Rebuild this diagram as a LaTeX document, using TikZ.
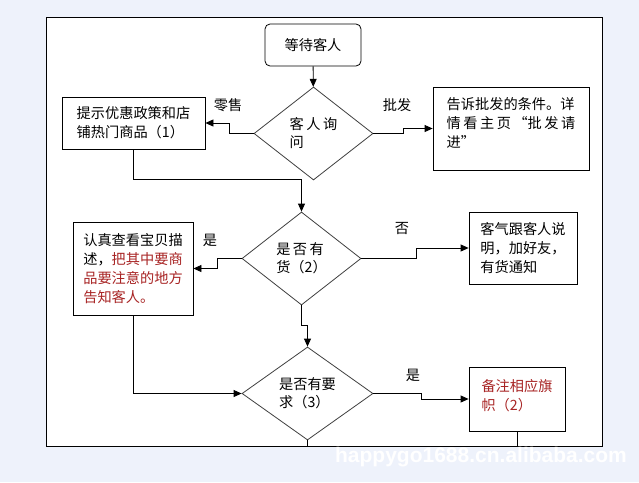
\documentclass[tikz,border=0pt]{standalone}
\usepackage{fontspec}
\setmainfont{Noto Sans CJK SC}
\newfontfamily\wmfont{Liberation Sans}
\usepackage{xcolor}
\usepackage{tikz}
\usetikzlibrary{arrows.meta, positioning, shapes.geometric}
\definecolor{pagebg}{HTML}{EEF2FB}
\definecolor{noteRed}{HTML}{A82424}
\newcommand{\gap}{\hspace{2.5pt}}

\begin{document}
\begin{tikzpicture}[x=1pt, y=-1pt,
  procbox/.style={draw, line width=0.8pt, inner sep=0pt, align=left,
              font=\fontsize{14.2}{19}\selectfont},
  startbox/.style={procbox, rounded corners=5pt, align=center},
  decision/.style={draw=black!75, line width=0.8pt, diamond, inner sep=0pt,
              align=left, font=\fontsize{14.2}{18}\selectfont},
  tag/.style={font=\fontsize{14.2}{18}\selectfont, inner sep=0pt},
  conn/.style={line width=0.8pt, -{Triangle[length=8pt, width=7pt]}},
  >=Stealth]
\useasboundingbox (0,0) rectangle (639,482);
\fill[pagebg] (0,0) rectangle (639,482);
\draw[fill=white, line width=0.8pt] (46.5,17) rectangle (602,446);
\node[font=\wmfont\bfseries\fontsize{21}{21}\selectfont, text=white] (wm) at (481,457) {happygo1688.cn.alibaba.com};

\node[startbox, minimum width=96pt, minimum height=42pt] (wait) at (313,45) {等待客人};
\node[decision, minimum width=119pt, minimum height=93pt] (ask) at (313.5,133.5) {客\gap{}人\gap{}询\\问};
\node[procbox, minimum width=143pt, minimum height=52pt] (promo) at (133.5,123)
  {提示优惠政策和店\\铺热门商品（1）};
\node[procbox, minimum width=156pt, minimum height=83pt] (whole) at (511,128.5)
  {告诉批发的条件。详\\情\gap{}看\gap{}主\gap{}页\gap{}“批\gap{}发\gap{}请\\进”\\[-8pt]};
\node[decision, minimum width=119pt, minimum height=93pt] (stock) at (301.5,258.5) {是\gap{}否\gap{}有\\货（2）};
\node[procbox, minimum width=120pt, minimum height=93pt] (check) at (133,268.5)
  {认真查看宝贝描\\述，\textcolor{noteRed}{把其中要商}\\\textcolor{noteRed}{品要注意的地方}\\\textcolor{noteRed}{告知客人。}};
\node[procbox, minimum width=108pt, minimum height=72pt] (notify) at (523,248)
  {客气跟客人说\\明，加好友，\\有货通知};
\node[decision, minimum width=131pt, minimum height=93pt] (req) at (307.5,393.5) {是否有要\\求（3）};
\node[procbox, minimum width=96pt, minimum height=64pt, text=noteRed] (flag) at (517,399)
  {备注相应旗\\帜（2）\\[-10pt]};
\coordinate (reqend) at (307.5,446);
\coordinate (flagend) at (517,446);

% branch labels
\node[tag] (retail) at (228,105) {零售};
\node[tag] (bulk) at (397,105) {批发};
\node[tag] (yesA) at (210,240) {是};
\node[tag] (noA) at (402,229) {否};
\node[tag] (yesB) at (413,375) {是};

\draw[conn] (wait) -- (ask);
\draw[conn] (ask.west) -- ++(-24,0) |- (promo.east);
\draw[conn] (ask.east) -- ++(30,0) |- (whole.west);
\draw[conn] (promo.south) -- ++(0,30) -| (stock.north);
\draw[conn] (stock.west) -- ++(-24,0) |- (check.east);
\draw[conn] (stock.east) -- ++(55,0) |- (notify.west);
\draw[conn] (stock.south) -- ++(0,20) -| (req.north);
\draw[conn] (check.south) |- (req.west);
\draw[conn] (req.east) -- ++(48,0) |- (flag.west);
\draw[line width=0.8pt] (req.south) -- (reqend);
\draw[line width=0.8pt] (flag.south) -- (flagend);
\end{tikzpicture}
\end{document}
